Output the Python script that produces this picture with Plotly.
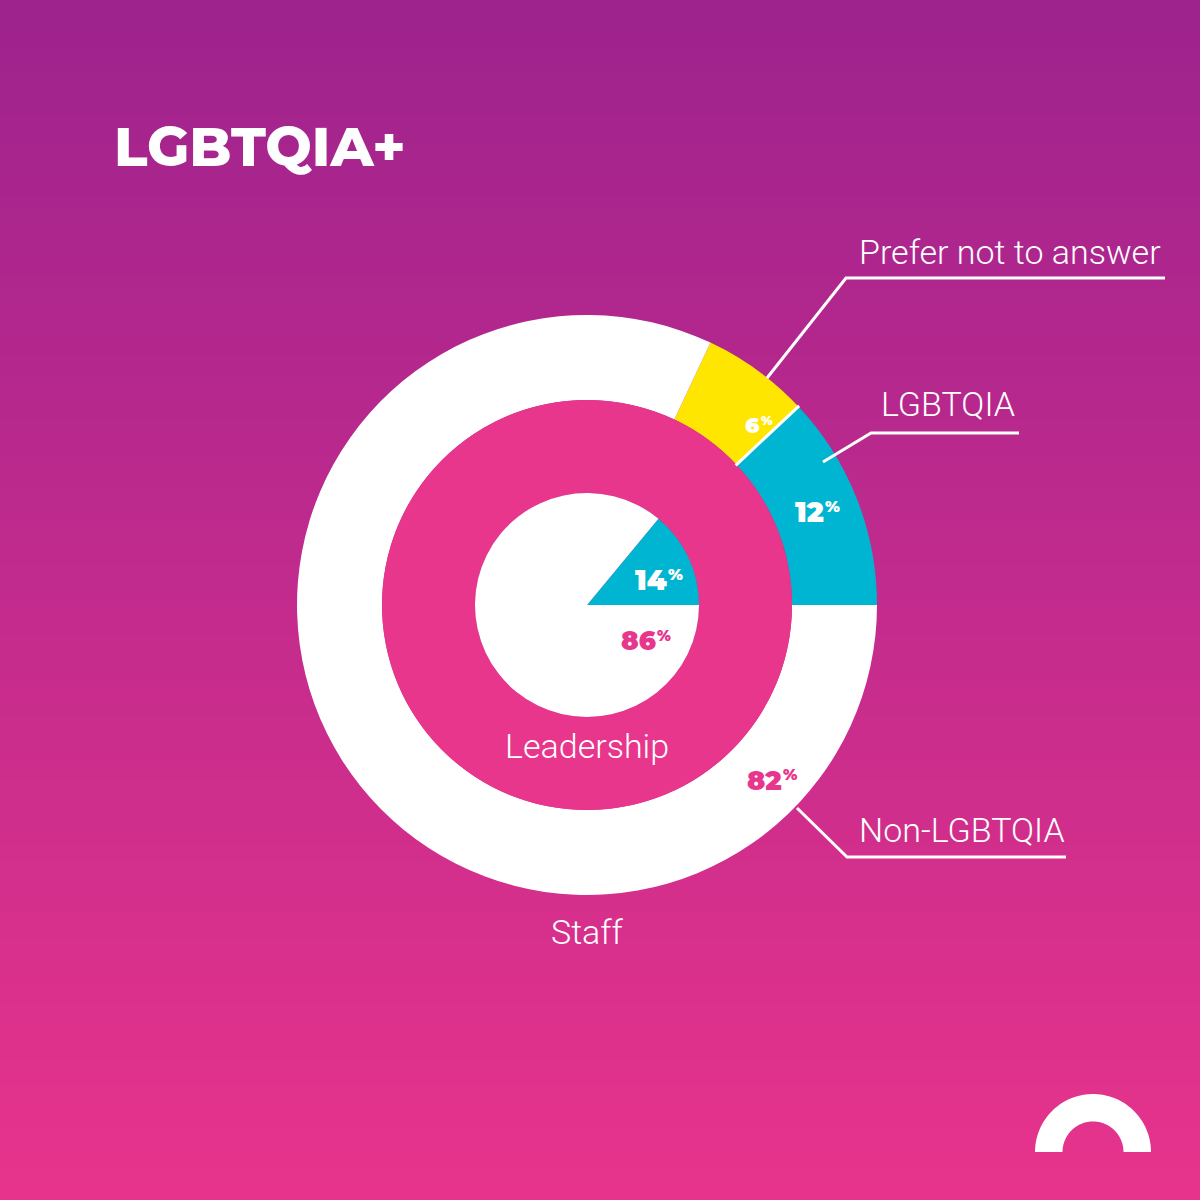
import numpy as np
import plotly.graph_objects as go

# ---- data ----
staff_labels = ["LGBTQIA", "Prefer not to answer", "Non-LGBTQIA"]
staff_values = [12, 6, 82]
leader_labels = ["LGBTQIA", "Non-LGBTQIA"]
leader_values = [14, 86]
title_text = "LGBTQIA+"

W = H = 1200
BLUE = "#00B5D1"
YELLOW = "#FFE600"
PINK = "#E8368D"
WHITE = "#FFFFFF"

def px(x):
    return x / W

def py(y):
    return 1 - y / H

CX, CY = 587, 605
R_OUT, R_MID, R_IN = 290, 205, 112

def dom(r):
    return dict(x=[px(CX - r), px(CX + r)], y=[py(CY + r), py(CY - r)])

def rot(vals):
    # first slice should start at 3 o'clock and run counterclockwise
    return 90 - 360 * vals[0] / sum(vals)

fig = go.Figure()

# outer ring: staff
fig.add_trace(go.Pie(
    labels=staff_labels, values=staff_values, sort=False,
    direction="counterclockwise", rotation=rot(staff_values),
    hole=R_MID / R_OUT, domain=dom(R_OUT),
    marker=dict(colors=[BLUE, YELLOW, WHITE], line=dict(width=0)),
    textinfo="none", hoverinfo="label+percent", showlegend=False,
))
# pink leadership ring
fig.add_trace(go.Pie(
    labels=["Leadership"], values=[sum(leader_values)], sort=False,
    hole=R_IN / R_MID, domain=dom(R_MID),
    marker=dict(colors=[PINK], line=dict(width=0)),
    textinfo="none", hoverinfo="skip", showlegend=False,
))
# inner pie: leadership
fig.add_trace(go.Pie(
    labels=leader_labels, values=leader_values, sort=False,
    direction="counterclockwise", rotation=rot(leader_values),
    domain=dom(R_IN),
    marker=dict(colors=[BLUE, WHITE], line=dict(width=0)),
    textinfo="none", hoverinfo="label+percent", showlegend=False,
))

shapes = []
# background gradient
top = np.array([158, 35, 142])
bot = np.array([232, 52, 140])
n = 240
for i in range(n):
    t = (i + 0.5) / n
    c = top + (bot - top) * t
    shapes.append(dict(type="rect", xref="paper", yref="paper",
                       x0=0, x1=1, y0=1 - i / n, y1=1 - (i + 1) / n - 0.001,
                       fillcolor="rgb(%d,%d,%d)" % tuple(c.astype(int)),
                       line=dict(width=0), layer="below"))

# separator between blue and yellow slices
ang = np.deg2rad(360 * staff_values[0] / sum(staff_values))
shapes.append(dict(type="line", xref="paper", yref="paper",
                   x0=px(CX + (R_MID - 1) * np.cos(ang)), y0=py(CY - (R_MID - 1) * np.sin(ang)),
                   x1=px(CX + (R_OUT + 1) * np.cos(ang)), y1=py(CY - (R_OUT + 1) * np.sin(ang)),
                   line=dict(color=WHITE, width=3), layer="above"))

def polyline(pts, width=3):
    d = "M " + " L ".join("%f,%f" % (px(x), py(y)) for x, y in pts)
    return dict(type="path", xref="paper", yref="paper", path=d,
                line=dict(color=WHITE, width=width), layer="above")

shapes.append(polyline([(767, 378), (846, 278), (1165, 278)]))
shapes.append(polyline([(823, 462), (871, 433), (1019, 433)]))
shapes.append(polyline([(797, 808), (847, 857), (1066, 857)]))

# logo arch
LX, LY, LRo, LRi = 1093, 1152, 58, 30.5
th = np.linspace(np.pi, 0, 60)
outer = [(LX + LRo * np.cos(a), LY - LRo * np.sin(a)) for a in th]
inner = [(LX + LRi * np.cos(a), LY - LRi * np.sin(a)) for a in th[::-1]]
pts = outer + inner
d = "M " + " L ".join("%f,%f" % (px(x), py(y)) for x, y in pts) + " Z"
shapes.append(dict(type="path", xref="paper", yref="paper", path=d,
                   fillcolor=WHITE, line=dict(width=0), layer="above"))

ann = []
def text(x, y, s, size, color=WHITE, family="Roboto", weight=300,
         xanchor="center", yanchor="middle"):
    ann.append(dict(x=px(x), y=py(y), xref="paper", yref="paper", text=s,
                    showarrow=False, xanchor=xanchor, yanchor=yanchor,
                    borderpad=0,
                    font=dict(family=family, size=size, color=color, weight=weight)))

BOLD = "Montserrat, 'Open Sans', sans-serif"
text(113, 146, title_text, 55, family=BOLD, weight=800, xanchor="left")
text(1162, 252, staff_labels[1], 34, xanchor="right")
text(1016, 404, staff_labels[0], 34, xanchor="right")
text(1066, 830, staff_labels[2], 34, xanchor="right")
text(587, 746, "Leadership", 34)
text(587, 932, "Staff", 34)

def pct(value, xsplit, ycenter, size, color):
    text(xsplit, ycenter, str(value), size, color=color, family=BOLD, weight=900,
         xanchor="right")
    text(xsplit - 1.5, ycenter - size * 0.2, "%", size * 0.58, color=color,
         family=BOLD, weight=900, xanchor="left")

pct(staff_values[1], 761, 425, 22, WHITE)
pct(staff_values[0], 825, 512, 28, WHITE)
pct(staff_values[2], 783, 780, 27, PINK)
pct(leader_values[0], 668, 580, 28, WHITE)
pct(leader_values[1], 657, 641, 26, PINK)

fig.update_layout(width=W, height=H, margin=dict(l=0, r=0, t=0, b=0),
                  paper_bgcolor="rgb(195,44,142)", plot_bgcolor="rgba(0,0,0,0)",
                  shapes=shapes, annotations=ann, showlegend=False)
fig.write_html("out.html")
